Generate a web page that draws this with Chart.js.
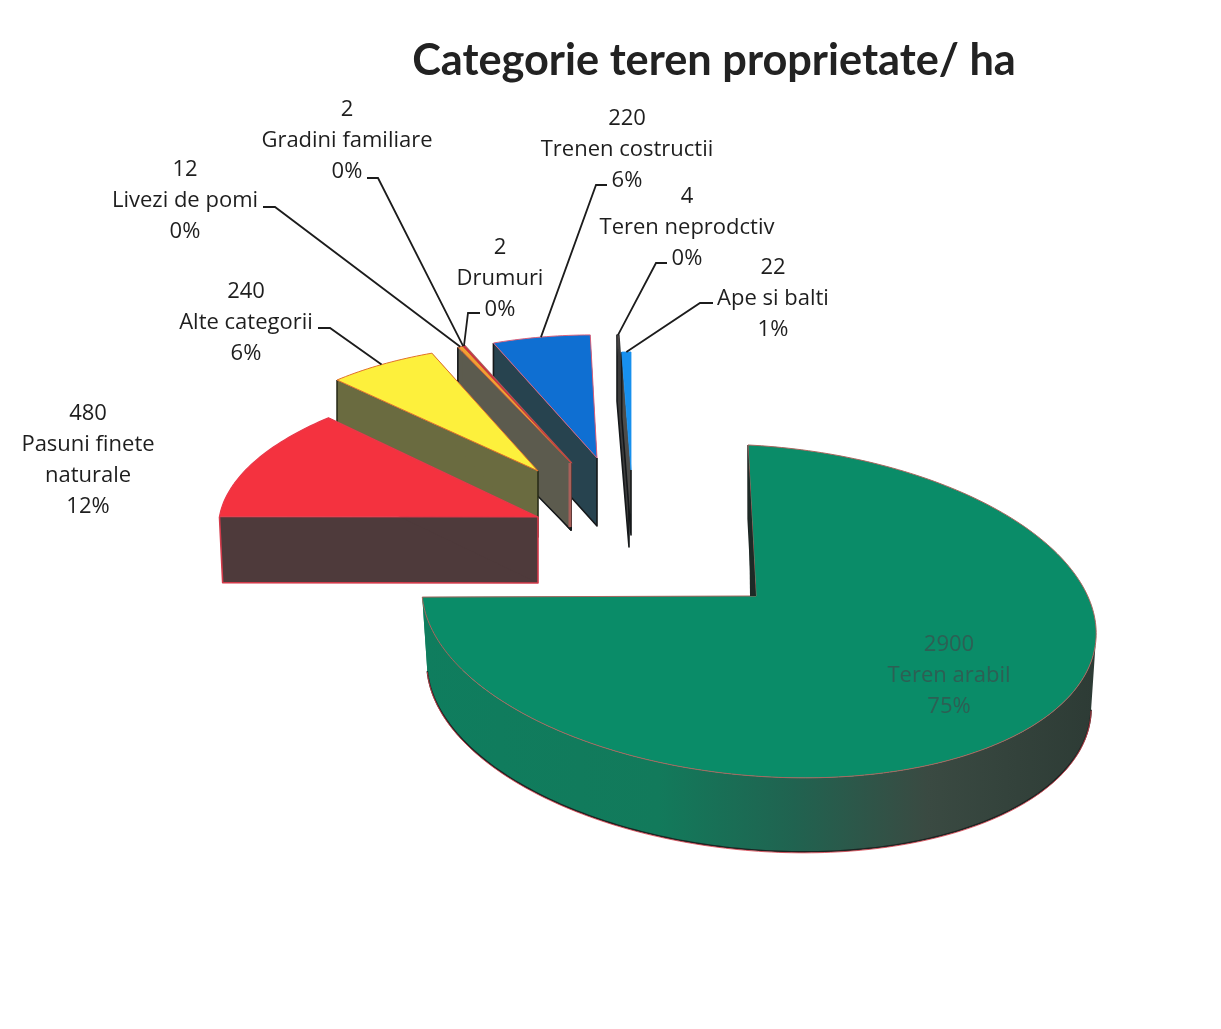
<!DOCTYPE html>
<html>
<head>
<meta charset="utf-8">
<style>
  html, body { margin: 0; padding: 0; background: #fff; }
  #wrap { width: 1221px; height: 1029px; }
</style>
<script src="https://cdn.jsdelivr.net/npm/chart.js@4"></script>
</head>
<body>
<div id="wrap"><canvas id="plot-data" width="1221" height="1029"></canvas></div>
<script>
const chartTitle = 'Categorie teren proprietate/ ha';
const categories = ['Teren arabil', 'Pasuni finete\nnaturale', 'Alte categorii', 'Livezi de pomi',
    'Gradini familiare', 'Drumuri', 'Trenen costructii', 'Teren neprodctiv', 'Ape si balti'];
const hectares = [2900, 480, 240, 12, 2, 2, 220, 4, 22];

const topColors = ['#0a8c68', '#f4323f', '#fdf03c', '#f2a032', '#d8243f', '#a9605a', '#0f6fd2', '#a8787a', '#1790ee'];
const wallColors = ['#1f6450', '#4e3a3b', '#6a6b40', '#5c5b4e', '#5c5b4e', '#5c5b4e', '#27434f', '#3c3c3c', '#4c4c4a'];
const rimColors = ['#a8665e', '#e8384a', '#e0702c', '#c0503c', '#d8243f', '#a9605a', '#d8607c', '#3a3a3a', '#1790ee'];
const rimWidths = [1, 1.2, 1, 0.8, 1.5, 2.5, 1, 1.6, 0.8];
const wallEdgeColors = ['#1c2422', '#d23a4a', '#2a2c18', '#15181a', '#15181a', '#15181a', '#15181a', '#15181a', '#15181a'];

// how each slice was pulled out of the pie, px from the pie centre,
// and the tilted circle it sits on: u = sin axis, v = cos axis, c = circle centre from apex
const explode = [[42, 39.5], [-176, -39.5], [-176, -85.5], [-143, -93.5], [-143, -93.5], [-143, -93.5], [-117, -98.5], [-85, -75.5], [-83, -86.5]];
const axisU = [[337, 17], [318, 3], [291, 5], [275, 0], [275, 0], [275, 0], [279, 4], [285, 0], [260, 0]];
const axisV = [[-11, -166], [31, -141], [15, -127], [0, -127], [0, -127], [0, -127], [5, -123], [0, -146], [0, -118]];
const circleShift = [[3, 15], [0, 0], [0, 0], [0, 0], [0, 0], [0, 0], [0, 0], [0, 0], [0, 0]];
const depths = [74, 66, 66, 67, 67, 67, 68, 66, 65];
const taper = [0.985, 0.99, 1, 1, 1, 1, 1, 1, 1];
const drawOrder = [7, 8, 6, 5, 4, 3, 2, 1, 0];

// label centre x, first line y, leader elbow (x1, y1, x2, y2)
const labelBoxes = [
    [949, 645, null],
    [88, 414, null],
    [246, 292, [318, 328, 330, 328]],
    [185, 170, [263, 207, 275, 207]],
    [347, 110, [367, 178, 378, 178]],
    [500, 248, [480, 313, 468, 313]],
    [627, 119, [607, 185, 596, 185]],
    [687, 197, [667, 263, 656, 263]],
    [773, 268, [713, 303, 700, 303]]
];
const labelColors = ['#2d5f54', '#1e1e1e', '#1e1e1e', '#1e1e1e', '#1e1e1e', '#1e1e1e', '#1e1e1e', '#1e1e1e', '#1e1e1e'];
const labelFont = '22px "Open Sans"';
const labelStep = 31;

function slicePoints(arc, i) {
    const apex = [arc.x + explode[i][0], arc.y + explode[i][1]];
    const cx = apex[0] + circleShift[i][0];
    const cy = apex[1] + circleShift[i][1];
    const from = arc.startAngle + Math.PI / 2;
    const to = arc.endAngle + Math.PI / 2;
    const steps = Math.max(2, Math.ceil((to - from) / 0.02));
    const at = t => [
        cx + axisU[i][0] * Math.sin(t) + axisV[i][0] * Math.cos(t),
        cy + axisU[i][1] * Math.sin(t) + axisV[i][1] * Math.cos(t)
    ];
    const rim = [];
    for (let s = 0; s <= steps; s++) {
        const t = from + (to - from) * s / steps;
        rim.push({ t: t, p: at(t) });
    }
    // part of the rim that faces the viewer, it runs leftwards when going clockwise
    const front = rim.filter(r => axisU[i][0] * Math.cos(r.t) - axisV[i][0] * Math.sin(r.t) < 0).map(r => r.p);
    const lower = p => [cx + (p[0] - cx) * taper[i], p[1] + depths[i]];
    return { apex, rim, front, lower, mid: at((from + to) / 2), cx };
}

function poly(ctx, pts) {
    ctx.beginPath();
    pts.forEach((p, k) => k ? ctx.lineTo(p[0], p[1]) : ctx.moveTo(p[0], p[1]));
}

function wallStyle(ctx, i, s) {
    if (i !== 0) return wallColors[i];
    // the big slice gets lighter towards the left of its front wall
    const left = s.rim[s.rim.length - 1].p[0];
    const right = left + 2 * axisU[0][0];
    const g = ctx.createLinearGradient(left, 0, right, 0);
    g.addColorStop(0, '#0f7d5e');
    g.addColorStop(0.35, '#127a5b');
    g.addColorStop(0.55, '#206350');
    g.addColorStop(0.75, '#3a4a42');
    g.addColorStop(1, '#2d3b35');
    return g;
}

const extrudedPie = {
    id: 'extrudedPie',
    beforeDatasetDraw(chart) {
        const ctx = chart.ctx;
        const arcs = chart.getDatasetMeta(0).data;
        ctx.save();
        ctx.lineJoin = 'round';
        drawOrder.forEach(i => {
            const s = slicePoints(arcs[i], i);
            const pts = s.rim.map(r => r.p);
            const ring = [s.apex].concat(pts, [s.apex]);
            ctx.fillStyle = wallStyle(ctx, i, s);
            // outer wall in one piece, then the two cut faces
            if (s.front.length > 1) {
                poly(ctx, s.front.concat(s.front.map(s.lower).reverse()));
                ctx.closePath();
                ctx.fill();
            }
            [pts[0], pts[pts.length - 1]].forEach(p => {
                poly(ctx, [s.apex, p, s.lower(p), s.lower(s.apex)]);
                ctx.closePath();
                ctx.fill();
            });
            // wall edges that are really seen from the front
            const first = pts[0];
            ctx.strokeStyle = wallEdgeColors[i];
            ctx.lineWidth = 1.6;
            poly(ctx, [first, s.lower(first), s.lower(s.apex), s.apex]);
            ctx.stroke();
            if (i === 3) {
                ctx.strokeStyle = rimColors[5];
                ctx.lineWidth = 3;
                poly(ctx, [[s.apex[0] - 1, s.apex[1]], [s.apex[0] - 1, s.apex[1] + depths[i] - 3]]);
                ctx.stroke();
            }
            if (s.front.length > 1) {
                const edge = s.front.map(s.lower);
                poly(ctx, edge);
                ctx.stroke();
                ctx.strokeStyle = '#d8404c';
                ctx.lineWidth = 0.8;
                poly(ctx, edge.map(p => [p[0], p[1] + 1]));
                ctx.stroke();
            }
            ctx.fillStyle = topColors[i];
            poly(ctx, ring);
            ctx.closePath();
            ctx.fill();
            ctx.strokeStyle = rimColors[i];
            ctx.lineWidth = rimWidths[i];
            ctx.stroke();
            if (i === 0) {
                // dark inside of the cut on the big slice
                ctx.fillStyle = '#1d2a26';
                poly(ctx, [pts[0], s.apex, [s.apex[0] - 6, s.apex[1]]]);
                ctx.closePath();
                ctx.fill();
            }
        });
        ctx.restore();
        return false;
    },
    afterDraw(chart) {
        const ctx = chart.ctx;
        const arcs = chart.getDatasetMeta(0).data;
        const total = hectares.reduce((a, b) => a + b, 0);
        ctx.save();
        ctx.font = labelFont;
        ctx.textAlign = 'center';
        ctx.textBaseline = 'middle';
        categories.forEach((name, i) => {
            const box = labelBoxes[i];
            const lines = [String(hectares[i])].concat(name.split('\n'), [Math.round(hectares[i] / total * 100) + '%']);
            ctx.fillStyle = labelColors[i];
            lines.forEach((line, k) => ctx.fillText(line, box[0], box[1] + k * labelStep));
            if (box[2]) {
                const e = box[2];
                const s = slicePoints(arcs[i], i);
                ctx.strokeStyle = '#1c1c1c';
                ctx.lineWidth = 1.8;
                poly(ctx, [[e[0], e[1]], [e[2], e[3]], s.mid]);
                ctx.stroke();
            }
        });
        ctx.restore();
    }
};

new Chart(document.getElementById('plot-data').getContext('2d'), {
    type: 'pie',
    data: {
        labels: categories,
        datasets: [{
            data: hectares,
            backgroundColor: topColors,
            borderWidth: 0,
            radius: 337
        }]
    },
    options: {
        responsive: false,
        animation: false,
        layout: { padding: { left: 207, right: 0, top: 0, bottom: 3 } },
        plugins: {
            legend: { display: false },
            tooltip: { enabled: false },
            title: {
                display: true,
                text: chartTitle,
                color: '#222',
                font: { family: 'Lato', size: 43.3, weight: 'bold', lineHeight: 1.2 },
                padding: { top: 35, bottom: 0 }
            }
        }
    },
    plugins: [extrudedPie]
});
</script>
</body>
</html>
